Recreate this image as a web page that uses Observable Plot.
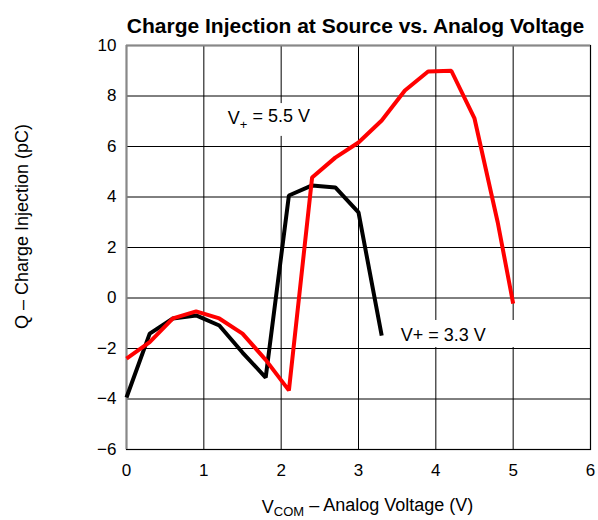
<!DOCTYPE html>
<html>
<head>
<meta charset="utf-8">
<script src="https://cdn.jsdelivr.net/npm/d3@7"></script>
<script src="https://cdn.jsdelivr.net/npm/@observablehq/plot@0.6"></script>
<style>
  body { margin: 0; background: #fff; }
  svg { font-family: "Liberation Sans", Arial, Helvetica, sans-serif; }
</style>
</head>
<body>
<div id="chart"></div>
<script>
// ---- data ----
const title = "Charge Injection at Source vs. Analog Voltage";
const xLabel = "VCOM – Analog Voltage (V)";
const yLabel = "Q – Charge Injection (pC)";
const xTicks = [0, 1, 2, 3, 4, 5, 6];
const yTicks = [-6, -4, -2, 0, 2, 4, 6, 8, 10];

// V+ = 3.3 V (black)
const vcom33 = [0, 0.3, 0.6, 0.9, 1.2, 1.5, 1.8, 2.1, 2.4, 2.7, 3.0, 3.3];
const q33    = [-3.94, -1.41, -0.81, -0.69, -1.09, -2.16, -3.15, 4.06, 4.46, 4.38, 3.39, -1.49];

// V+ = 5.5 V (red)
const vcom55 = [0, 0.3, 0.6, 0.9, 1.2, 1.5, 1.8, 2.1, 2.4, 2.7, 3.0, 3.3, 3.6, 3.9, 4.2, 4.5, 4.8, 5.0];
const q55    = [-2.4, -1.75, -0.81, -0.53, -0.81, -1.41, -2.45, -3.66, 4.77, 5.56, 6.16, 7.03, 8.22, 8.97, 9.0, 7.11, 3.0, -0.22];

// annotations
const label55 = "V+ = 5.5 V";
const label33 = "V+ = 3.3 V";
const labels = [
  {text: label55, x: 1.31, y: 7.11, x1: 1.22, x2: 2.51, y1: 6.4, y2: 7.7},
  {text: label33, x: 3.545, y: -1.49, x1: 3.38, x2: 5.14, y1: -1.96, y2: -0.89}
];

const s33 = vcom33.map((v, i) => ({x: v, y: q33[i]}));
const s55 = vcom55.map((v, i) => ({x: v, y: q55[i]}));

const chart = Plot.plot({
  width: 598,
  height: 520,
  marginLeft: 126,
  marginRight: 8,
  marginTop: 45,
  marginBottom: 71,
  style: {fontFamily: '"Liberation Sans", Arial, Helvetica, sans-serif', fontSize: "17px", color: "#000", background: "#fff"},
  x: {domain: [0, 6], ticks: xTicks},
  y: {domain: [-6, 10], ticks: yTicks},
  marks: [
    Plot.gridX(xTicks, {stroke: "#000", strokeOpacity: 1, strokeWidth: 1}),
    Plot.gridY(yTicks, {stroke: "#000", strokeOpacity: 1, strokeWidth: 1}),
    Plot.rect(labels, {x1: "x1", x2: "x2", y1: "y1", y2: "y2", fill: "#fff"}),
    Plot.frame({stroke: "#000", strokeWidth: 1.2}),
    Plot.ruleX([0], {stroke: "#888", strokeWidth: 2}),
    Plot.ruleY([10], {stroke: "#888", strokeWidth: 2}),
    Plot.axisX(xTicks, {tickSize: 0, tickPadding: 14, label: null, fontSize: 17}),
    Plot.axisY(yTicks, {tickSize: 0, tickPadding: 10, label: null, fontSize: 17}),
    Plot.line(s33, {x: "x", y: "y", stroke: "#000", strokeWidth: 4, strokeLinejoin: "miter", strokeLinecap: "butt"}),
    Plot.line(s55, {x: "x", y: "y", stroke: "#ff0000", strokeWidth: 4, strokeLinejoin: "miter", strokeLinecap: "butt"}),
    Plot.text(labels, {x: "x", y: "y", text: "text", textAnchor: "start", fontSize: 18, fill: "#000"}),
    Plot.text([title], {frameAnchor: "top", dy: -27, dx: -3, fontSize: 21, fontWeight: "bold", fill: "#000"}),
    Plot.text([xLabel], {frameAnchor: "bottom", dy: 63, dx: 9, fontSize: 18, fill: "#000"}),
    Plot.text([yLabel], {frameAnchor: "left", textAnchor: "middle", dx: -104, dy: -21, rotate: -90, fontSize: 18, fill: "#000"})
  ]
});

document.getElementById("chart").appendChild(chart);

// subscripts
d3.select(chart).selectAll("text").each(function() {
  const t = this.textContent;
  const el = d3.select(this);
  if (t === xLabel) {
    el.text(null);
    el.append("tspan").text("V");
    el.append("tspan").attr("font-size", "13px").attr("dy", "0.25em").text("COM");
    el.append("tspan").attr("dy", "-0.25em").text(" – Analog Voltage (V)");
  } else if (t === label55) {
    el.text(null);
    el.append("tspan").text("V");
    el.append("tspan").attr("font-size", "13px").attr("dy", "0.35em").text("+");
    el.append("tspan").attr("dy", "-0.35em").text(" = 5.5 V");
  }
});
</script>
</body>
</html>
